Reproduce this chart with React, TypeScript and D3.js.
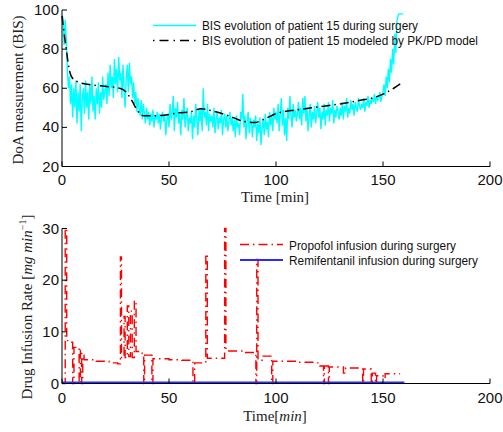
import React from "react";
import * as d3 from "d3";

// BIS measured every 0.5 min (t = 0 .. 159.5)
const bisValues = [
  97, 96, 82, 95, 85, 70, 60, 66, 52, 62, 45, 60, 50, 64, 42, 58, 48, 62, 38, 55,
  60, 47, 64, 50, 58, 44, 62, 52, 66, 48, 56, 44, 60, 52, 63, 47, 58, 50, 66, 54,
  58, 62, 52, 68, 56, 72, 60, 66, 55, 75, 62, 70, 58, 76, 64, 68, 55, 72, 60, 50,
  65, 72, 58, 73, 62, 66, 55, 63, 52, 58, 48, 55, 50, 46, 54, 44, 52, 47, 42, 50,
  44, 48, 41, 47, 43, 49, 40, 46, 44, 48, 42, 47, 39, 45, 48, 43, 46, 36, 44, 47,
  40, 52, 44, 48, 56, 38, 50, 45, 53, 42, 47, 36, 49, 44, 55, 40, 46, 50, 38, 45,
  42, 48, 34, 46, 40, 52, 44, 36, 49, 43, 50, 38, 60, 45, 48, 41, 52, 38, 47, 43,
  46, 40, 50, 37, 44, 48, 39, 45, 42, 49, 36, 44, 47, 40, 46, 38, 43, 48, 41, 45,
  38, 44, 35, 46, 40, 42, 36, 48, 44, 57, 40, 46, 34, 43, 48, 37, 45, 42, 35, 44,
  40, 46, 33, 42, 37, 45, 31, 40, 44, 36, 47, 39, 43, 35, 48, 41, 46, 38, 50, 44,
  48, 42, 52, 38, 47, 55, 41, 49, 36, 45, 33, 50, 44, 56, 46, 40, 52, 45, 49, 43,
  47, 53, 44, 50, 41, 55, 47, 56, 43, 50, 38, 46, 52, 40, 48, 44, 51, 42, 47, 53,
  45, 50, 39, 48, 44, 52, 41, 49, 46, 53, 43, 50, 47, 54, 42, 49, 45, 51, 48, 44,
  50, 46, 53, 44, 51, 48, 55, 45, 50, 47, 54, 49, 52, 46, 53, 50, 48, 55, 51, 49,
  52, 50, 55, 48, 53, 51, 56, 50, 54, 52, 55, 53, 57, 52, 56, 54, 55, 58, 53, 56,
  58, 62, 56, 66, 60, 70, 63, 75, 68, 80, 72, 88, 78, 94, 97, 98, 98, 98, 98, 98,
];
const bisStep = 0.5;

const modelTimes = [0, 1, 2, 3, 4, 5, 8, 12, 20, 27, 30, 33, 35, 38, 45, 55, 60, 65, 70, 75, 80, 85, 90, 95, 100, 110, 120, 130, 140, 145, 150, 155, 159];
const modelValues = [97, 88, 80, 72, 67, 65, 63, 62, 61, 60, 58, 53, 49, 46, 46, 47.5, 48, 49.5, 48.5, 47, 45, 43, 42.5, 44.5, 47, 49, 50.5, 52, 54, 55, 57, 60, 63];

const propofolTimes = [0, 1.5, 2.2, 3.5, 5.0, 5.6, 7.8, 8.0, 8.6, 9.2, 9.7, 10.3, 16, 22, 26, 27.3, 27.8, 29.0, 29.5, 30.5, 31.2, 32.0, 32.8, 33.8, 34.6, 37.5, 38.2, 38.6, 42.0, 42.5, 50, 56, 61.2, 62.0, 67.2, 67.9, 76.0, 76.6, 85, 90.6, 91.0, 91.6, 94, 98.0, 98.5, 110, 119, 120.5, 122.2, 122.6, 124.5, 124.9, 131.5, 132.5, 140.5, 140.9, 144.5, 145, 146.5, 147, 150, 151, 158];
const propofolValues = [0, 30, 8.3, 8, 0, 7, 6.8, 0, 6.5, 0, 5.5, 4.6, 4.3, 4.0, 3.8, 24.5, 5.0, 13, 5, 15, 5.2, 14, 5.0, 16, 6.2, 5.8, 0, 5.5, 0, 4.8, 4.6, 4.5, 0, 4.0, 25, 4.9, 30, 6.3, 6.0, 0, 24, 4.5, 5.3, 0, 4.3, 4.1, 4.0, 3.4, 0, 3.4, 0, 3.2, 2.0, 3.0, 0, 2.8, 0, 2.0, 0, 1.5, 1.0, 1.9, 1.9];

const remiTimes = [0, 160];
const remiValues = [0.2, 0.2];

const xTicks = [0, 50, 100, 150, 200];
const bisTicks = [20, 40, 60, 80, 100];
const rateTicks = [0, 10, 20, 30];

const W = 503;
const H = 432;
const sans = "'Liberation Sans', Arial, sans-serif";
const serif = "'Liberation Serif', 'DejaVu Serif', serif";

export default function App() {
  const x = d3.scaleLinear().domain([0, 200]).range([62, 490]);
  const yTop = d3.scaleLinear().domain([20, 100]).range([166.5, 10]);
  const yBot = d3.scaleLinear().domain([0, 30]).range([383.5, 228.5]);

  const bisPts: [number, number][] = bisValues.map((v, i) => [i * bisStep, v]);
  const modelPts: [number, number][] = modelTimes.map((t, i) => [t, modelValues[i]]);
  const propPts: [number, number][] = propofolTimes.map((t, i) => [t, propofolValues[i]]);
  const remiPts: [number, number][] = remiTimes.map((t, i) => [t, remiValues[i]]);

  const lineTop = d3.line<[number, number]>().x((d) => x(d[0])).y((d) => yTop(d[1]));
  const lineModel = d3
    .line<[number, number]>()
    .x((d) => x(d[0]))
    .y((d) => yTop(d[1]))
    .curve(d3.curveMonotoneX);
  const lineProp = d3
    .line<[number, number]>()
    .x((d) => x(d[0]))
    .y((d) => yBot(d[1]))
    .curve(d3.curveStepAfter);
  const lineRemi = d3.line<[number, number]>().x((d) => x(d[0])).y((d) => yBot(d[1]));

  const tickLen = 5;
  const dashDot = "9,4,1.5,4";

  const axes = (y: d3.ScaleLinear<number, number>, yTicks: number[], xLabelY: number) => {
    const [y0, y1] = y.range();
    return (
      <g>
        <line x1={x(0)} x2={x(0)} y1={y0} y2={y1} stroke="#000" strokeWidth={1} />
        <line x1={x(0)} x2={x(200)} y1={y0} y2={y0} stroke="#000" strokeWidth={1} />
        {xTicks.map((t) => (
          <g key={"x" + t}>
            <line x1={x(t)} x2={x(t)} y1={y0} y2={y0 - tickLen} stroke="#000" strokeWidth={1} />
            <text x={x(t)} y={xLabelY} textAnchor="middle" fontFamily={sans} fontSize={15} fill="#111">
              {t}
            </text>
          </g>
        ))}
        {yTicks.map((t) => (
          <g key={"y" + t}>
            <line x1={x(0)} x2={x(0) + tickLen} y1={y(t)} y2={y(t)} stroke="#000" strokeWidth={1} />
            <text x={x(0) - 3} y={y(t) + 5} textAnchor="end" fontFamily={sans} fontSize={15} fill="#111">
              {t}
            </text>
          </g>
        ))}
      </g>
    );
  };

  return (
    <svg width={W} height={H} style={{ position: "absolute", left: 0, top: 0 }} xmlns="http://www.w3.org/2000/svg">
      <rect width={W} height={H} fill="#fff" />
      {/* Top chart */}
      <path d={lineTop(bisPts) || ""} fill="none" stroke="#00ffff" strokeWidth={1.4} />
      <path d={lineModel(modelPts) || ""} fill="none" stroke="#000" strokeWidth={1.5} strokeDasharray={dashDot} />
      {axes(yTop, bisTicks, 185)}
      <line x1={153} x2={196} y1={25.5} y2={25.5} stroke="#00ffff" strokeWidth={1.3} />
      <line x1={153} x2={196} y1={40.5} y2={40.5} stroke="#000" strokeWidth={1.3} strokeDasharray="1.5,5,9,5" />
      <text x={202} y={30} fontFamily={sans} fontSize={12.5} fill="#111" textLength={216} lengthAdjust="spacingAndGlyphs">
        BIS evolution of patient 15 during surgery
      </text>
      <text x={202} y={45} fontFamily={sans} fontSize={12.5} fill="#111" textLength={276} lengthAdjust="spacingAndGlyphs">
        BIS evolution of patient 15 modeled by PK/PD model
      </text>
      <text x={275} y={202} textAnchor="middle" fontFamily={serif} fontSize={15} fill="#222">
        Time [min]
      </text>
      <text
        transform="translate(23,90) rotate(-90)"
        textAnchor="middle"
        fontFamily={serif}
        fontSize={15}
        fill="#222"
      >
        DoA measurement (BIS)
      </text>

      {/* Bottom chart */}
      <path d={lineProp(propPts) || ""} fill="none" stroke="#ff0000" strokeWidth={1.4} strokeDasharray={dashDot} />
      <path d={lineRemi(remiPts) || ""} fill="none" stroke="#2b2bff" strokeWidth={1.8} />
      {axes(yBot, rateTicks, 403)}
      <line x1={240} x2={283} y1={244.5} y2={244.5} stroke="#ff0000" strokeWidth={1.3} strokeDasharray={dashDot} />
      <line x1={240} x2={283} y1={260} y2={260} stroke="#2b2bff" strokeWidth={1.8} />
      <text x={289} y={249.5} fontFamily={sans} fontSize={12.5} fill="#111" textLength={167} lengthAdjust="spacingAndGlyphs">
        Propofol infusion during surgery
      </text>
      <text x={289} y={265} fontFamily={sans} fontSize={12.5} fill="#111" textLength={189} lengthAdjust="spacingAndGlyphs">
        Remifentanil infusion during surgery
      </text>
      <text x={275} y={421} textAnchor="middle" fontFamily={serif} fontSize={15} fill="#222">
        Time[<tspan fontStyle="italic">min</tspan>]
      </text>
      <text
        transform="translate(32,307) rotate(-90)"
        textAnchor="middle"
        fontFamily={serif}
        fontSize={15}
        fill="#222"
      >
        Drug Infusion Rate [<tspan fontStyle="italic">mg min</tspan>
        <tspan fontSize={10} dy={-6}>−1</tspan>
        <tspan dy={6}>]</tspan>
      </text>
    </svg>
  );
}
